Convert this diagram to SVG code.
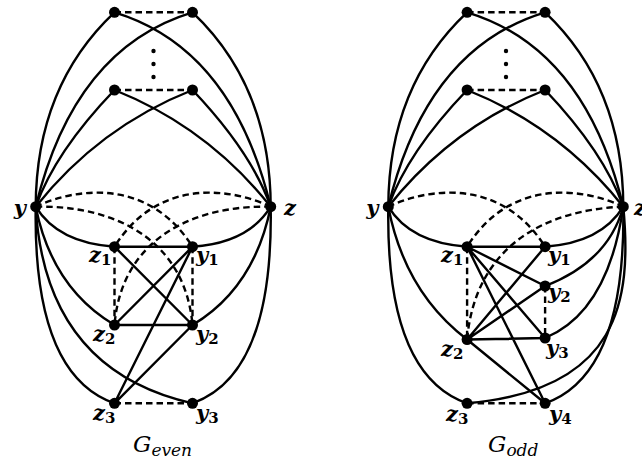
<svg xmlns="http://www.w3.org/2000/svg" width="642" height="462" viewBox="0 0 642 462">
<style>
.e{fill:none;stroke:#000;stroke-width:2.4}
.d{fill:none;stroke:#000;stroke-width:2.4;stroke-dasharray:6.5,4}
.n{fill:#000}
.lb{font-family:"DejaVu Serif",serif;font-style:italic;font-weight:bold;font-size:21px;fill:#000}
.sb{font-style:normal;font-size:15px}
.ti{font-family:"DejaVu Serif",serif;font-style:italic;font-size:23px;fill:#000}
</style>
<rect width="642" height="462" fill="#fff"/>
<g id="connectors">
<path class="e" d="M35.7,206.7 Q36,86 114.5,12.3"/>
<path class="e" d="M35.7,206.7 Q74,48 192.5,12.3"/>
<path class="e" d="M35.7,206.7 Q55,152 114.5,90"/>
<path class="e" d="M35.7,206.7 Q99,127 192.5,90"/>
<path class="e" d="M270.7,206.7 Q270.4,86 192.5,12.3"/>
<path class="e" d="M270.7,206.7 Q232.4,48 114.5,12.3"/>
<path class="e" d="M270.7,206.7 Q251.4,152 192.5,90"/>
<path class="e" d="M270.7,206.7 Q207.4,127 114.5,90"/>
<path class="e" d="M35.7,206.7 Q58,243 114.5,246.7"/>
<path class="e" d="M270.7,206.7 Q248.4,243 192.5,246.7"/>
<path class="e" d="M35.7,206.7 Q52,288 114.5,325"/>
<path class="e" d="M270.7,206.7 Q254.4,288 192.5,325"/>
<path class="e" d="M35.7,206.7 Q33,375 114.5,403.3"/>
<path class="e" d="M270.7,206.7 Q273.4,375 192.5,403.3"/>
<path class="e" d="M35.7,206.7 Q45,370 192.5,403.3"/>
<path class="e" d="M114.5,246.7 L192.5,246.7 M114.5,246.7 L192.5,325 M192.5,246.7 L114.5,325 M114.5,325 L192.5,325 M192.5,246.7 L114.5,403.3 M192.5,325 L114.5,403.3"/>
<path class="d" d="M114.5,12.3 L192.5,12.3 M114.5,90 L192.5,90 M114.5,246.7 L114.5,325 M192.5,246.7 L192.5,325 M114.5,403.3 L192.5,403.3"/>
<path class="d" d="M35.7,206.7 C80,186 150,180 192.5,246.7"/>
<path class="d" d="M270.7,206.7 C226.4,186 156.4,180 114.5,246.7"/>
<path class="d" d="M35.7,206.7 C115,205 185,240 192.5,325"/>
<path class="d" d="M270.7,206.7 C191.4,205 121.4,240 114.5,325"/>
<path class="e" d="M388.3,206.7 Q388.6,86 467.1,12.3"/>
<path class="e" d="M388.3,206.7 Q426.6,48 545.1,12.3"/>
<path class="e" d="M388.3,206.7 Q407.6,152 467.1,90"/>
<path class="e" d="M388.3,206.7 Q451.6,127 545.1,90"/>
<path class="e" d="M623.3,206.7 Q623,86 545.1,12.3"/>
<path class="e" d="M623.3,206.7 Q585,48 467.1,12.3"/>
<path class="e" d="M623.3,206.7 Q604,152 545.1,90"/>
<path class="e" d="M623.3,206.7 Q560,127 467.1,90"/>
<path class="e" d="M388.3,206.7 Q410.6,243 467.1,246.7"/>
<path class="e" d="M623.3,206.7 Q601,243 545.1,246.7"/>
<path class="e" d="M388.3,206.7 Q404.6,292 467.1,339.5"/>
<path class="e" d="M388.3,206.7 Q385.6,375 467.1,403.3"/>
<path class="e" d="M623.3,206.7 Q608,262 545.1,286"/>
<path class="e" d="M623.3,206.7 Q608,312 545.1,338"/>
<path class="e" d="M623.3,206.7 Q626,375 545.1,403.3"/>
<path class="e" d="M623.3,206.7 C632,300 620,390 467.1,403.3"/>
<path class="e" d="M467.1,246.7 L545.1,246.7 M467.1,246.7 L545.1,286 M467.1,246.7 L545.1,338 M467.1,246.7 L545.1,403.3 M467.1,339.5 L545.1,246.7 M467.1,339.5 L545.1,286 M467.1,339.5 L545.1,338 M467.1,339.5 L545.1,403.3"/>
<path class="d" d="M467.1,12.3 L545.1,12.3 M467.1,90 L545.1,90 M467.1,246.7 L467.1,339.5 M545.1,286 L545.1,338 M467.1,403.3 L545.1,403.3"/>
<path class="d" d="M388.3,206.7 C432.6,186 502.6,180 545.1,246.7"/>
<path class="d" d="M623.3,206.7 C579,186 509,180 467.1,246.7"/>
<path class="d" d="M623.3,206.7 C540,210 475,250 467.1,339.5"/>
</g>
<g id="dots-left"><circle class="n" cx="153.5" cy="51" r="2.2"/><circle class="n" cx="153.5" cy="64" r="2.2"/><circle class="n" cx="153.5" cy="77" r="2.2"/></g>
<g id="dots-right"><circle class="n" cx="506" cy="51" r="2.2"/><circle class="n" cx="506" cy="64" r="2.2"/><circle class="n" cx="506" cy="77" r="2.2"/></g>
<g id="L-a1"><circle class="n" cx="114.5" cy="12.3" r="5.5"/></g>
<g id="L-b1"><circle class="n" cx="192.5" cy="12.3" r="5.5"/></g>
<g id="L-a2"><circle class="n" cx="114.5" cy="90" r="5.5"/></g>
<g id="L-b2"><circle class="n" cx="192.5" cy="90" r="5.5"/></g>
<g id="L-y"><circle class="n" cx="35.7" cy="206.7" r="5.5"/><text class="lb" x="26" y="215" text-anchor="end">y</text></g>
<g id="L-z"><circle class="n" cx="270.7" cy="206.7" r="5.5"/><text class="lb" x="284" y="215">z</text></g>
<g id="L-z1"><circle class="n" cx="114.5" cy="246.7" r="5.5"/><text class="lb" x="89" y="262">z<tspan class="sb" dy="3">1</tspan></text></g>
<g id="L-y1"><circle class="n" cx="192.5" cy="246.7" r="5.5"/><text class="lb" x="196" y="262">y<tspan class="sb" dy="3">1</tspan></text></g>
<g id="L-z2"><circle class="n" cx="114.5" cy="325" r="5.5"/><text class="lb" x="93" y="341">z<tspan class="sb" dy="3">2</tspan></text></g>
<g id="L-y2"><circle class="n" cx="192.5" cy="325" r="5.5"/><text class="lb" x="196" y="341">y<tspan class="sb" dy="3">2</tspan></text></g>
<g id="L-z3"><circle class="n" cx="114.5" cy="403.3" r="5.5"/><text class="lb" x="93" y="420">z<tspan class="sb" dy="3">3</tspan></text></g>
<g id="L-y3"><circle class="n" cx="192.5" cy="403.3" r="5.5"/><text class="lb" x="196" y="420">y<tspan class="sb" dy="3">3</tspan></text></g>
<g id="R-a1"><circle class="n" cx="467.1" cy="12.3" r="5.5"/></g>
<g id="R-b1"><circle class="n" cx="545.1" cy="12.3" r="5.5"/></g>
<g id="R-a2"><circle class="n" cx="467.1" cy="90" r="5.5"/></g>
<g id="R-b2"><circle class="n" cx="545.1" cy="90" r="5.5"/></g>
<g id="R-y"><circle class="n" cx="388.3" cy="206.7" r="5.5"/><text class="lb" x="378.5" y="215" text-anchor="end">y</text></g>
<g id="R-z"><circle class="n" cx="623.3" cy="206.7" r="5.5"/><text class="lb" x="634" y="215">z</text></g>
<g id="R-z1"><circle class="n" cx="467.1" cy="246.7" r="5.5"/><text class="lb" x="441" y="262">z<tspan class="sb" dy="3">1</tspan></text></g>
<g id="R-y1"><circle class="n" cx="545.1" cy="246.7" r="5.5"/><text class="lb" x="548" y="262">y<tspan class="sb" dy="3">1</tspan></text></g>
<g id="R-y2"><circle class="n" cx="545.1" cy="286" r="5.5"/><text class="lb" x="548" y="299">y<tspan class="sb" dy="3">2</tspan></text></g>
<g id="R-y3"><circle class="n" cx="545.1" cy="338" r="5.5"/><text class="lb" x="546" y="355">y<tspan class="sb" dy="3">3</tspan></text></g>
<g id="R-z2"><circle class="n" cx="467.1" cy="339.5" r="5.5"/><text class="lb" x="441" y="356">z<tspan class="sb" dy="3">2</tspan></text></g>
<g id="R-z3"><circle class="n" cx="467.1" cy="403.3" r="5.5"/><text class="lb" x="446" y="421">z<tspan class="sb" dy="3">3</tspan></text></g>
<g id="R-y4"><circle class="n" cx="545.1" cy="403.3" r="5.5"/><text class="lb" x="549" y="421">y<tspan class="sb" dy="3">4</tspan></text></g>
<g id="titles">
<text class="ti" x="133" y="452">G<tspan font-size="17" dy="4">even</tspan></text>
<text class="ti" x="488" y="452">G<tspan font-size="17" dy="4">odd</tspan></text>
</g>
</svg>
